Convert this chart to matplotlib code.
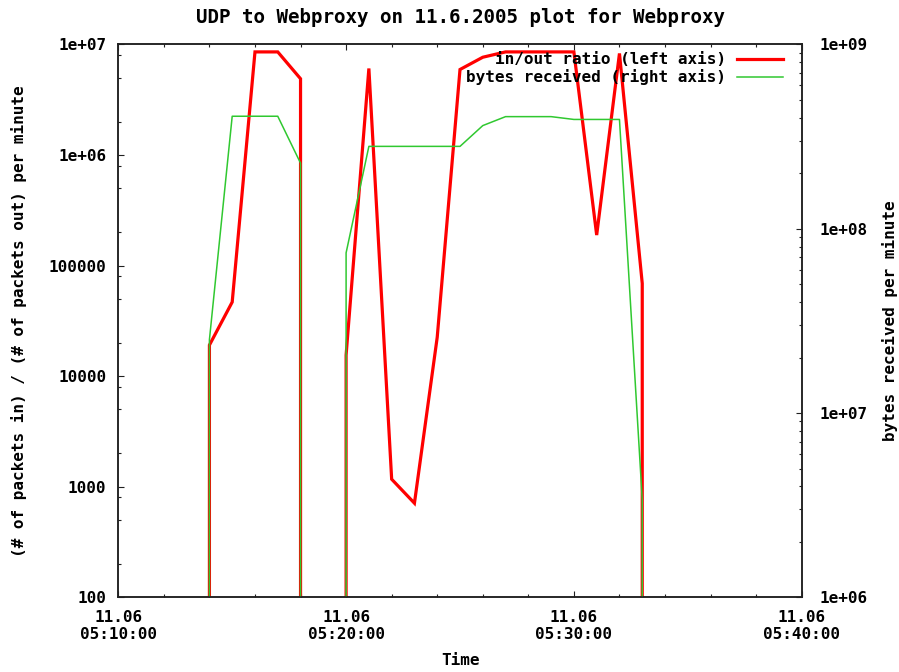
"""UDP to Webproxy — in/out packet ratio (left, log) and bytes received (right, log)."""

from datetime import datetime

import matplotlib
matplotlib.use("Agg")
import matplotlib.pyplot as plt
import matplotlib.dates as mdates
from matplotlib.ticker import FuncFormatter, LogLocator, NullFormatter

DAY = "2005-06-11"
TITLE = "UDP to Webproxy on 11.6.2005 plot for Webproxy"

# sample times (one per minute); duplicated stamps mark where a series drops to zero
TIMES = ["05:14:00", "05:14:00", "05:15:00", "05:16:00", "05:17:00", "05:18:00", "05:18:00",
         "05:20:00", "05:20:00", "05:21:00", "05:22:00", "05:23:00", "05:24:00", "05:25:00",
         "05:26:00", "05:27:00", "05:28:00", "05:29:00", "05:30:00", "05:31:00", "05:32:00",
         "05:33:00", "05:33:00"]

# (# packets in) / (# packets out) per minute, left axis
RATIO = [1, 19100, 46800, 8.57e6, 8.57e6, 4.9e6, 1,
         1, 15500, 6.07e6, 1170, 710, 22500, 5.94e6,
         7.67e6, 8.57e6, 8.57e6, 8.57e6, 8.57e6, 1.89e5, 8.3e6,
         69000, 1]

# bytes received per minute, right axis
BYTES = [1, 2.5e7, 4.08e8, 4.08e8, 4.08e8, 2.27e8, 1,
         1, 7.4e7, 2.8e8, 2.8e8, 2.8e8, 2.8e8, 2.8e8,
         3.63e8, 4.06e8, 4.06e8, 4.06e8, 3.92e8, 3.92e8, 3.92e8,
         3.4e6, 1]

LABELS = ["in/out ratio (left axis)", "bytes received (right axis)"]
XSTART, XEND = "05:10:00", "05:40:00"

RED = "#ff0000"
GREEN = "#30c830"
FRAME = "#202020"


def _t(s):
    return datetime.strptime(f"{DAY} {s}", "%Y-%m-%d %H:%M:%S")


def _sci(v, _pos=None):
    return f"{v:.0e}"


def _left_fmt(v, _pos=None):
    return f"{v:.0f}" if v < 1e6 else f"{v:.0e}"


def main():
    plt.rcParams["font.family"] = ["DejaVu Sans Mono"]
    plt.rcParams["font.weight"] = "bold"
    plt.rcParams["axes.titleweight"] = "bold"
    plt.rcParams["axes.labelweight"] = "bold"
    plt.rcParams["font.size"] = 11.5

    times = [_t(s) for s in TIMES]

    fig = plt.figure(figsize=(8.99, 6.72), dpi=100)
    ax = fig.add_axes([0.13159, 0.11116, 0.76018, 0.82262])
    ax2 = ax.twinx()

    l1, = ax.plot(times, RATIO, color=RED, lw=2.3, solid_joinstyle="miter")
    l2, = ax2.plot(times, BYTES, color=GREEN, lw=1.1)

    ax.set_xlim(_t(XSTART), _t(XEND))
    ax.set_yscale("log")
    ax.set_ylim(100, 1e7)
    ax2.set_yscale("log")
    ax2.set_ylim(1e6, 1e9)

    ax.xaxis.set_major_locator(mdates.MinuteLocator(byminute=range(0, 60, 10)))
    ax.xaxis.set_minor_locator(mdates.MinuteLocator(byminute=range(0, 60, 2)))
    ax.xaxis.set_major_formatter(mdates.DateFormatter("%d.%m\n%H:%M:%S"))

    ax.yaxis.set_major_locator(LogLocator(base=10))
    ax.yaxis.set_major_formatter(FuncFormatter(_left_fmt))
    ax.yaxis.set_minor_locator(LogLocator(base=10, subs=[2, 5, 8]))
    ax.yaxis.set_minor_formatter(NullFormatter())

    ax2.yaxis.set_major_locator(LogLocator(base=10))
    ax2.yaxis.set_major_formatter(FuncFormatter(_sci))
    ax2.yaxis.set_minor_locator(LogLocator(base=10, subs=range(2, 10)))
    ax2.yaxis.set_minor_formatter(NullFormatter())

    ax.tick_params(axis="x", which="both", direction="in", top=True, bottom=True,
                   pad=9.5, color=FRAME)
    ax.tick_params(axis="y", which="both", direction="in", left=True, right=False,
                   pad=8.6, color=FRAME)
    ax2.tick_params(axis="y", which="both", direction="in", right=True, left=False,
                    pad=13, color=FRAME)
    for a in (ax, ax2):
        a.tick_params(which="major", length=4.5, width=0.8)
        a.tick_params(which="minor", length=2.5, width=0.8)
        for sp in a.spines.values():
            sp.set_color(FRAME)
            sp.set_linewidth(1.1)
    for lab in ax.get_xticklabels():
        lab.set_linespacing(1.1)

    ax.set_title(TITLE, y=1.0488, pad=0, va="center")
    ax.set_xlabel("Time", va="center")
    ax.xaxis.set_label_coords(0.5, -0.1152)
    ax.set_ylabel("(# of packets in) / (# of packets out) per minute", va="center")
    ax.yaxis.set_label_coords(-0.1453, 0.5)
    ax2.set_ylabel("bytes received per minute", va="center")
    ax2.yaxis.set_label_coords(1.1292, 0.5)

    ax2.legend([l1, l2], LABELS, loc="upper right", bbox_to_anchor=(0.973, 0.986),
               frameon=False, markerfirst=False, borderpad=0, borderaxespad=0,
               handlelength=2.9, handletextpad=0.7, labelspacing=0.12)

    fig.savefig("out.png", dpi=100)
    plt.close(fig)


if __name__ == "__main__":
    main()
